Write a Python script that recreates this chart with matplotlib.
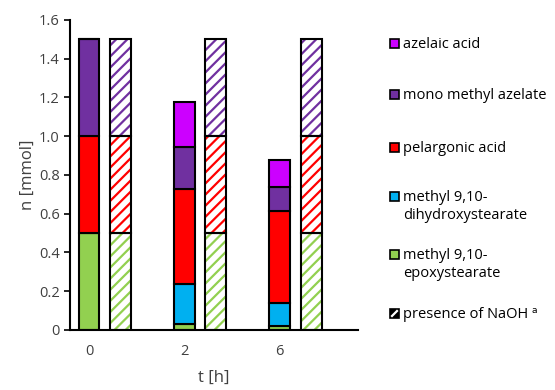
import matplotlib.pyplot as plt
import numpy as np
from matplotlib.patches import Rectangle
from matplotlib.lines import Line2D

plt.rcParams['font.family'] = ['Open Sans', 'DejaVu Sans']
plt.rcParams['hatch.linewidth'] = 1.6

# reaction time points and amounts (mmol)
times = ['0', '2', '6']
epoxystearate = [0.50, 0.03, 0.02]
dihydroxystearate = [0.00, 0.205, 0.12]
pelargonic = [0.50, 0.49, 0.475]
mono_azelate = [0.50, 0.22, 0.125]
azelaic = [0.00, 0.23, 0.135]

# runs with NaOH present
epoxystearate_naoh = [0.50, 0.50, 0.50]
pelargonic_naoh = [0.50, 0.50, 0.50]
mono_azelate_naoh = [0.50, 0.50, 0.50]

green = '#92D050'
blue = '#00B0F0'
red = '#FF0000'
purple = '#7030A0'
magenta = '#CC00FF'

fig = plt.figure(figsize=(5.55, 3.9), dpi=100)
ax = fig.add_axes([0.126, 0.154, 0.519, 0.795])

x = np.arange(len(times))
w = 0.22
off = 0.33

bottom = np.zeros(len(times))
for vals, col in [(epoxystearate, green), (dihydroxystearate, blue),
                  (pelargonic, red), (mono_azelate, purple), (azelaic, magenta)]:
    ax.bar(x, vals, w, bottom=bottom, color=col, edgecolor='black', linewidth=1.5, zorder=2)
    bottom += np.array(vals)

bottom = np.zeros(len(times))
for vals, col in [(epoxystearate_naoh, green), (pelargonic_naoh, red),
                  (mono_azelate_naoh, purple)]:
    ax.bar(x + off, vals, w, bottom=bottom, color='white', edgecolor=col,
           hatch='///', linewidth=0, zorder=2)
    ax.bar(x + off, vals, w, bottom=bottom, fill=False, edgecolor='black',
           linewidth=1.5, zorder=3)
    bottom += np.array(vals)

ax.set_xlim(-0.2, 2.82)
ax.set_ylim(0, 1.6)
ax.set_xticks(x)
ax.set_xticklabels(times)
ax.set_yticks(np.arange(0, 1.61, 0.2))
ax.set_yticklabels(['0'] + ['%.1f' % v for v in np.arange(0.2, 1.61, 0.2)])
ax.tick_params(axis='x', length=0, pad=10, labelsize=10.5)
ax.tick_params(axis='y', direction='out', length=4, width=1.2, labelsize=10.5)
for lab in ax.get_yticklabels() + ax.get_xticklabels():
    lab.set_color('#404040')
for s in ['top', 'right']:
    ax.spines[s].set_visible(False)
for s in ['left', 'bottom']:
    ax.spines[s].set_linewidth(1.5)
ax.set_ylabel('n [mmol]', fontsize=12, color='#404040', labelpad=2)
ax.set_xlabel('t [h]', fontsize=12, color='#404040', labelpad=8)

# legend on the right
entries = [
    (magenta, 'azelaic acid', 43),
    (purple, 'mono methyl azelate', 94),
    (red, 'pelargonic acid', 147),
    (blue, 'methyl 9,10-\ndihydroxystearate', 196),
    (green, 'methyl 9,10-\nepoxystearate', 254),
]
W, H = 555.0, 390.0
for col, txt, ypix in entries:
    fig.patches.append(Rectangle((390 / W, 1 - (ypix + 5) / H), 9 / W, 9 / H,
                                 facecolor=col, edgecolor='black', linewidth=1.2,
                                 transform=fig.transFigure, figure=fig))
    fig.text(403 / W, 1 - (ypix - 6) / H, txt, fontsize=10.5, va='top', ha='left',
             color='black', linespacing=1.3)
fig.patches.append(Rectangle((390 / W, 1 - 318 / H), 9 / W, 9 / H,
                             facecolor='black', edgecolor='black', linewidth=1.2,
                             transform=fig.transFigure, figure=fig))
fig.lines.append(Line2D([392 / W, 397 / W], [1 - 316 / H, 1 - 311 / H], color='white',
                        linewidth=1.6, transform=fig.transFigure, figure=fig))
fig.text(403 / W, 1 - 307 / H, 'presence of NaOH ᵃ', fontsize=10.5, va='top',
         ha='left', color='black')

fig.savefig('out.png', dpi=100)
